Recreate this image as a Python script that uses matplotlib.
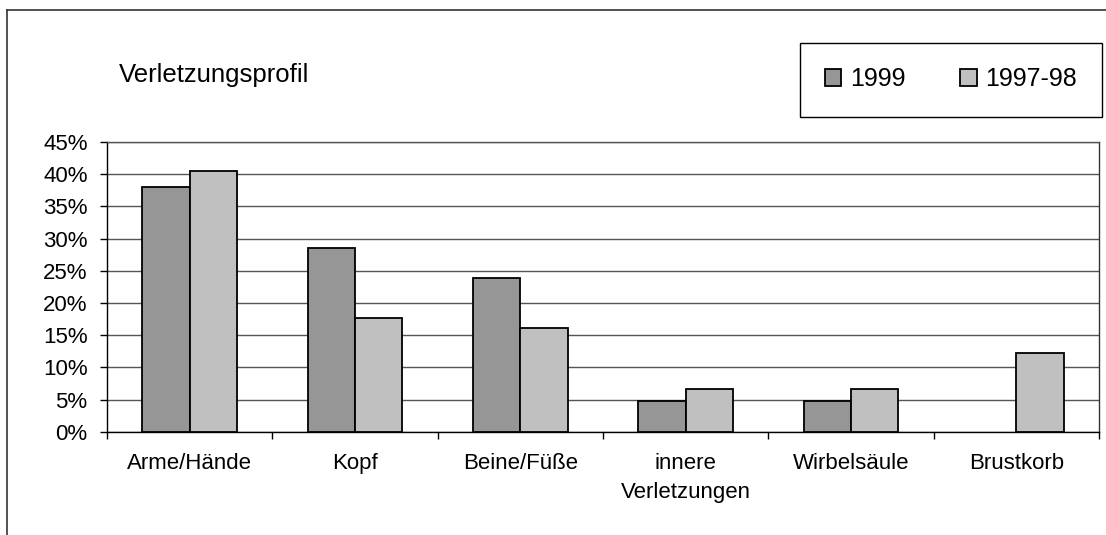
import matplotlib
matplotlib.use("Agg")
import matplotlib.pyplot as plt
from matplotlib.lines import Line2D
import numpy as np

plt.rcParams['font.family'] = ['Liberation Sans', 'DejaVu Sans']

categories = ["Arme/Hände", "Kopf", "Beine/Füße", "innere\nVerletzungen", "Wirbelsäule", "Brustkorb"]
series_names = ["1999", "1997-98"]
values_1999 = [38.0, 28.5, 23.8, 4.7, 4.7, 0.0]
values_1997_98 = [40.5, 17.6, 16.1, 6.7, 6.7, 12.2]
y_ticks = [0, 5, 10, 15, 20, 25, 30, 35, 40, 45]
y_tick_labels = ["0%", "5%", "10%", "15%", "20%", "25%", "30%", "35%", "40%", "45%"]

W, H = 1106, 535
fig = plt.figure(figsize=(W / 100, H / 100), dpi=100)
fig.patch.set_facecolor("white")

# outer chart frame (top and left edges visible)
fig.add_artist(Line2D([7 / W, 7 / W], [0, 1 - 10 / H], transform=fig.transFigure,
                      color="#333333", lw=1.2))
fig.add_artist(Line2D([7 / W, 1], [1 - 10 / H, 1 - 10 / H], transform=fig.transFigure,
                      color="#333333", lw=1.2))

ax = fig.add_axes([107 / W, 1 - 431.7 / H, (1099 - 107) / W, (431.7 - 142) / H])

x = np.arange(len(categories))
w = 1 / 3.5
b1 = ax.bar(x - w / 2, values_1999, width=w, color="#969696", edgecolor="black",
            linewidth=1.3, label=series_names[0], zorder=3)
b2 = ax.bar(x + w / 2, values_1997_98, width=w, color="#C0C0C0", edgecolor="black",
            linewidth=1.3, label=series_names[1], zorder=3)
# empty bars leave no outline on the baseline
for container in (b1, b2):
    for rect in container:
        if rect.get_height() == 0:
            rect.set_visible(False)

ax.set_xlim(-0.5, len(categories) - 0.5)
ax.set_ylim(0, 45)
ax.set_yticks(y_ticks)
ax.set_yticklabels(y_tick_labels)
ax.yaxis.grid(True, color="#555555", lw=1, zorder=0)
ax.set_axisbelow(True)

# category labels centred, ticks on category boundaries
ax.set_xticks(x)
ax.set_xticklabels(categories, linespacing=1.55)
ax.tick_params(axis="x", which="major", length=0, pad=15, labelsize=16)
ax.set_xticks(np.arange(len(categories) + 1) - 0.5, minor=True)
ax.tick_params(axis="x", which="minor", length=5, width=1, color="black", direction="out")
ax.tick_params(axis="y", length=5, width=1, direction="out", pad=9, labelsize=16)

for s in ax.spines.values():
    s.set_color("black")
    s.set_linewidth(1)
ax.spines["top"].set_color("#555555")
ax.spines["right"].set_color("#333333")

fig.text(119 / W, 1 - 75 / H, "Verletzungsprofil", fontsize=18.5, ha="left", va="center")

leg = fig.legend(handles=[b1, b2], labels=series_names, ncol=2,
                 loc="center", bbox_to_anchor=(951 / W, 1 - 79.5 / H),
                 fontsize=18, frameon=True, fancybox=False, edgecolor="black",
                 framealpha=1, handlelength=0.65, handleheight=0.65,
                 handletextpad=0.35, columnspacing=2.2, borderpad=1.0,
                 borderaxespad=0)
leg.get_frame().set_linewidth(1)

fig.savefig("out.png", dpi=100)
